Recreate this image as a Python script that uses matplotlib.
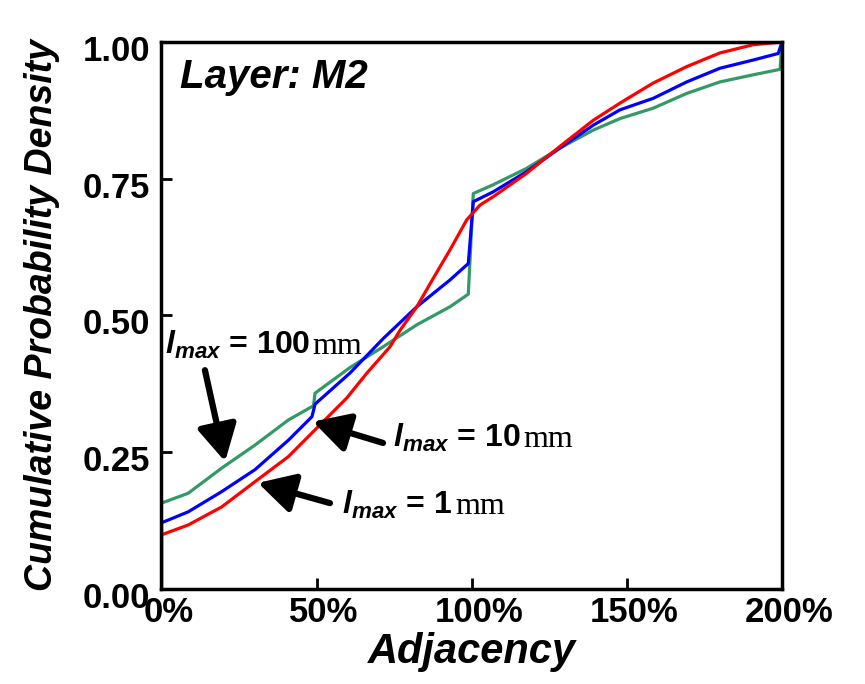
import matplotlib.pyplot as plt
from matplotlib.transforms import ScaledTranslation

plt.rcParams['font.family'] = ['Liberation Sans', 'DejaVu Sans']
plt.rcParams['mathtext.fontset'] = 'custom'
plt.rcParams['mathtext.bfit'] = 'Liberation Sans:italic:bold'
plt.rcParams['mathtext.it'] = 'Liberation Sans:italic:bold'

# values (adjacency in %, cumulative probability)
x_1um = [0, 0, 8.6, 19.4, 30.1, 40.9, 49.5, 59.7, 66.1, 73.7, 76.9, 82.3, 87.6,
         93.0, 98.4, 102.7, 106.9, 117.7, 128.4, 139.2, 148.0, 158.5, 169.3,
         180.0, 190.7, 200]
y_1um = [0, 0.099, 0.117, 0.150, 0.196, 0.242, 0.291, 0.349, 0.394, 0.443, 0.473,
         0.516, 0.568, 0.620, 0.675, 0.702, 0.717, 0.760, 0.809, 0.857, 0.889,
         0.925, 0.955, 0.980, 0.995, 1.0]

x_10um = [0, 0, 8.6, 19.4, 30.1, 40.9, 48.5, 49.5, 60.8, 71.5, 82.3, 93.0, 98.9,
          100.5, 106.9, 117.7, 128.4, 139.2, 147.8, 158.5, 169.3, 180.0, 190.7,
          198.8, 200]
y_10um = [0, 0.121, 0.141, 0.178, 0.218, 0.272, 0.315, 0.338, 0.395, 0.458, 0.516,
          0.565, 0.595, 0.708, 0.726, 0.763, 0.806, 0.848, 0.876, 0.897, 0.927,
          0.952, 0.967, 0.979, 1.0]

x_100um = [0, 0, 8.6, 19.4, 30.1, 40.9, 49.0, 49.5, 60.8, 71.5, 82.3, 93.0, 98.9,
           100.5, 106.9, 117.7, 128.4, 139.2, 147.8, 158.5, 169.3, 180.0, 190.7,
           199.4, 200]
y_100um = [0, 0.157, 0.175, 0.221, 0.263, 0.309, 0.335, 0.358, 0.405, 0.443, 0.483,
           0.516, 0.539, 0.723, 0.739, 0.769, 0.806, 0.839, 0.860, 0.879, 0.906,
           0.927, 0.940, 0.950, 1.0]

x_ticks = [0, 50, 100, 150, 200]
x_labels = ['0%', '50%', '100%', '150%', '200%']
y_ticks = [0, 0.25, 0.5, 0.75, 1.0]
y_labels = ['0.00', '0.25', '0.50', '0.75', '1.00']

fig = plt.figure(figsize=(8.65, 6.84), dpi=100)
ax = fig.add_axes([0.1867, 0.1389, 0.7173, 0.7997])

ax.plot(x_100um, y_100um, color='#339966', lw=2.3)
ax.plot(x_10um, y_10um, color='#0000FF', lw=2.3)
ax.plot(x_1um, y_1um, color='#FF0000', lw=2.3)

ax.set_xlim(0, 200)
ax.set_ylim(0, 1.0)
ax.set_xticks(x_ticks)
ax.set_xticklabels(x_labels)
ax.set_yticks(y_ticks)
ax.set_yticklabels(y_labels)
ax.tick_params(direction='in', length=8, width=2, labelsize=25)
ax.tick_params(axis='x', top=False, pad=5)
ax.tick_params(axis='y', right=False, pad=8)
# labels sit a little right / below their ticks in the original
dx = ScaledTranslation(7 / 100, 0, fig.dpi_scale_trans)
dy = ScaledTranslation(0, -6 / 100, fig.dpi_scale_trans)
for lab in ax.get_xticklabels():
    lab.set_fontweight('bold')
    lab.set_transform(lab.get_transform() + dx)
for lab in ax.get_yticklabels():
    lab.set_fontweight('bold')
    lab.set_transform(lab.get_transform() + dy)
for sp in ax.spines.values():
    sp.set_linewidth(2.5)

ax.set_xlabel('Adjacency', fontsize=30, fontweight='bold', style='italic', labelpad=2)
ax.set_ylabel('Cumulative Probability Density', fontsize=27, fontweight='bold',
              style='italic')
ax.yaxis.set_label_coords(-0.163, 0.5)

ax.text(6, 0.936, 'Layer: M2', fontsize=29, fontweight='bold', style='italic',
        va='center', ha='left')

arrow = dict(arrowstyle='-|>,head_length=1.1,head_width=0.6', color='black',
             lw=4.5, shrinkA=0, shrinkB=0, mutation_scale=20)

ax.annotate('', xy=(20.5, 0.233), xytext=(14.0, 0.400), arrowprops=arrow)
ax.annotate('', xy=(48.8, 0.306), xytext=(71.4, 0.267), arrowprops=arrow)
ax.annotate('', xy=(31.1, 0.194), xytext=(54.3, 0.157), arrowprops=arrow)

label_kw = dict(fontsize=23, fontweight='bold', va='baseline', ha='left')
for xt, yt, val in [(1.0, 0.43, '100'), (74.6, 0.26, '10'), (58.2, 0.138, '1')]:
    t = ax.text(xt, yt, r'$\mathbfit{l}_{\mathbfit{max}}$' + ' = ' + val, **label_kw)
    # the unit as it appears in the picture
    ax.annotate('mm', xy=(1, 0), xycoords=t, xytext=(2, 0), textcoords='offset points',
                fontsize=23, family='Liberation Serif', va='bottom', ha='left')

fig.savefig('out.png', dpi=100)
